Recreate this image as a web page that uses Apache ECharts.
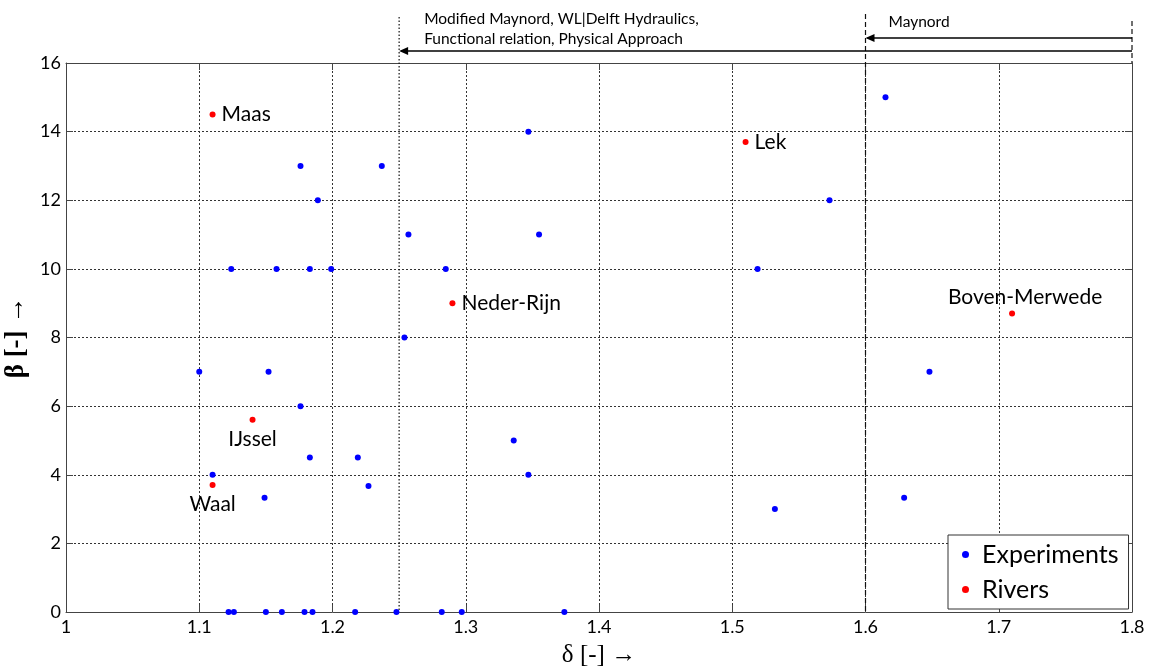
<!DOCTYPE html>
<html>
<head>
<meta charset="utf-8">
<title>δ – β scatter</title>
<script src="https://cdn.jsdelivr.net/npm/echarts@6/dist/echarts.min.js"></script>
<style>
  html, body { margin: 0; padding: 0; background: #fff; }
  #chart { width: 1152px; height: 666px; }
</style>
</head>
<body>
<div id="chart"></div>
<script>
// Experimental points: relative velocity delta and stone parameter beta
const expDelta = [
  1.100, 1.110, 1.149, 1.152, 1.124, 1.158, 1.176, 1.189, 1.183, 1.199,
  1.176, 1.183, 1.219, 1.227, 1.237, 1.257, 1.254, 1.285, 1.347, 1.355,
  1.336, 1.347, 1.519, 1.573, 1.532, 1.615, 1.648, 1.629,
  1.122, 1.126, 1.150, 1.162, 1.179, 1.185, 1.217, 1.248, 1.282, 1.297, 1.374
];
const expBeta = [
  7, 4, 3.33, 7, 10, 10, 13, 12, 10, 10,
  6, 4.5, 4.5, 3.67, 13, 11, 8, 10, 14, 11,
  5, 4, 10, 12, 3, 15, 7, 3.33,
  0, 0, 0, 0, 0, 0, 0, 0, 0, 0, 0
];

// Dutch river branches
const riverNames = ['Maas', 'Lek', 'Neder-Rijn', 'Boven-Merwede', 'IJssel', 'Waal'];
const riverDelta = [1.11, 1.51, 1.29, 1.71, 1.14, 1.11];
const riverBeta  = [14.5, 13.7, 9.0, 8.7, 5.6, 3.7];

// Axis ticks
const xTicks = [1, 1.1, 1.2, 1.3, 1.4, 1.5, 1.6, 1.7, 1.8];
const yTicks = [0, 2, 4, 6, 8, 10, 12, 14, 16];

// Validity limits of the design formulas (delta value where each range starts / ends)
const rangeModified = { from: 1.8, to: 1.25, lines: ['Modified Maynord, WL|Delft Hydraulics,', 'Functional relation, Physical Approach'] };
const rangeMaynord  = { from: 1.8, to: 1.6, lines: ['Maynord'] };

// Where each river name sits relative to its dot
const labelSide = {
  'Maas': 'right', 'Lek': 'right', 'Neder-Rijn': 'right',
  'Boven-Merwede': 'top', 'IJssel': 'bottom', 'Waal': 'bottom'
};
const labelShift = { 'Boven-Merwede': [13, 3] };

const SANS = 'Lato, "Open Sans", sans-serif';
const SERIF = '"Liberation Serif", "DejaVu Serif", serif';
const AXIS_COLOR = '#444';

const chart = echarts.init(document.getElementById('chart'), null, { renderer: 'canvas' });

const gridSplit = { show: true, lineStyle: { color: '#333', type: [2, 2], width: 1 } };

const baseAxis = (ticks) => ({
  min: ticks[0],
  max: ticks[ticks.length - 1],
  interval: ticks[1] - ticks[0],
  axisLine: { show: true, onZero: false, lineStyle: { color: AXIS_COLOR, width: 1 } },
  axisTick: { show: true, inside: true, length: 7, lineStyle: { color: AXIS_COLOR } }
});

const option = {
  animation: false,
  backgroundColor: '#fff',
  grid: { left: 66, right: 20, top: 63, bottom: 54, containLabel: false, outerBoundsMode: 'none' },
  xAxis: [
    Object.assign(baseAxis(xTicks), {
      type: 'value',
      position: 'bottom',
      name: 'δ [-] →',
      nameLocation: 'middle',
      nameGap: 31,
      nameTextStyle: { fontFamily: SERIF, fontSize: 25, color: '#000' },
      axisLabel: { fontFamily: SANS, fontSize: 18, color: '#000', margin: 6,
        formatter: v => String(Math.round(v * 10) / 10) },
      splitLine: gridSplit
    }),
    Object.assign(baseAxis(xTicks), {
      type: 'value', position: 'top',
      axisLabel: { show: false }, splitLine: { show: false }
    })
  ],
  yAxis: [
    Object.assign(baseAxis(yTicks), {
      type: 'value',
      position: 'left',
      name: 'β [-] →',
      nameLocation: 'middle',
      nameRotate: 90,
      nameGap: 34,
      nameTextStyle: { fontFamily: SERIF, fontSize: 27, fontWeight: 'bold', color: '#000' },
      axisLabel: { fontFamily: SANS, fontSize: 18, color: '#000', margin: 5 },
      splitLine: gridSplit
    }),
    Object.assign(baseAxis(yTicks), {
      type: 'value', position: 'right',
      axisLabel: { show: false }, splitLine: { show: false }
    })
  ],
  legend: {
    orient: 'vertical',
    left: 948,
    top: 535,
    width: 170,
    padding: [7, 10, 7, 14],
    itemGap: 10,
    itemWidth: 7,
    itemHeight: 7,
    icon: 'circle',
    borderColor: '#333',
    borderWidth: 1,
    backgroundColor: '#fff',
    textStyle: { fontFamily: SANS, fontSize: 25, color: '#000', padding: [0, 0, 0, 8] },
    data: ['Experiments', 'Rivers']
  },
  series: [
    {
      name: 'Experiments',
      type: 'scatter',
      symbol: 'circle',
      symbolSize: 6,
      itemStyle: { color: '#0000ff', opacity: 1 },
      data: expDelta.map((d, i) => [d, expBeta[i]]),
      z: 3
    },
    {
      name: 'Rivers',
      type: 'scatter',
      symbol: 'circle',
      symbolSize: 6,
      itemStyle: { color: '#ff0000', opacity: 1 },
      data: riverNames.map((n, i) => ({
        name: n,
        value: [riverDelta[i], riverBeta[i]],
        label: { position: labelSide[n], offset: labelShift[n] || [0, 0] }
      })),
      label: {
        show: true,
        formatter: '{b}',
        fontFamily: SANS,
        fontSize: 21,
        color: '#000',
        opacity: 1,
        distance: 6
      },
      z: 4
    }
  ]
};

chart.setOption(option);

// Range markers drawn above and through the plot, placed from the axis scale
function px(d) { return chart.convertToPixel({ xAxisIndex: 0 }, d); }
function py(b) { return chart.convertToPixel({ yAxisIndex: 0 }, b); }

const yBottom = py(yTicks[0]);
const yTop = py(yTicks[yTicks.length - 1]);
const lineStyle = (dash) => ({ stroke: '#111', lineWidth: 1.2, lineDash: dash });

function arrow(xFrom, xTo, y) {
  return [
    { type: 'line', shape: { x1: xFrom, y1: y, x2: xTo + 2, y2: y },
      style: { stroke: '#000', lineWidth: 1.5 }, silent: true, z: 10 },
    { type: 'polygon', shape: { points: [[xTo, y], [xTo + 9, y - 4], [xTo + 9, y + 4]] },
      style: { fill: '#000' }, silent: true, z: 10 }
  ];
}

const g = [];
// delta = 1.25 limit (dotted), delta = 1.6 limit (dashed), delta = 1.8 top marker
g.push({ type: 'line', shape: { x1: px(rangeModified.to), y1: 17, x2: px(rangeModified.to), y2: yBottom },
  style: lineStyle([1.5, 2]), silent: true, z: 9 });
g.push({ type: 'line', shape: { x1: px(rangeMaynord.to), y1: 14, x2: px(rangeMaynord.to), y2: yBottom },
  style: lineStyle([5, 3]), silent: true, z: 9 });
g.push({ type: 'line', shape: { x1: px(rangeMaynord.from), y1: 21, x2: px(rangeMaynord.from), y2: yTop },
  style: lineStyle([5, 3]), silent: true, z: 9 });

g.push(...arrow(px(rangeMaynord.from), px(rangeMaynord.to), 38));
g.push(...arrow(px(rangeModified.from), px(rangeModified.to), 51));

rangeModified.lines.forEach((t, i) => {
  g.push({ type: 'text', x: px(rangeModified.to) + 25, y: 19 + i * 20,
    style: { text: t, font: '15.5px ' + SANS, fill: '#000', textVerticalAlign: 'middle' },
    silent: true, z: 10 });
});
g.push({ type: 'text', x: px(rangeMaynord.to) + 23, y: 22,
  style: { text: rangeMaynord.lines[0], font: '15.5px ' + SANS, fill: '#000', textVerticalAlign: 'middle' },
  silent: true, z: 10 });

chart.setOption({ graphic: g });
</script>
</body>
</html>
